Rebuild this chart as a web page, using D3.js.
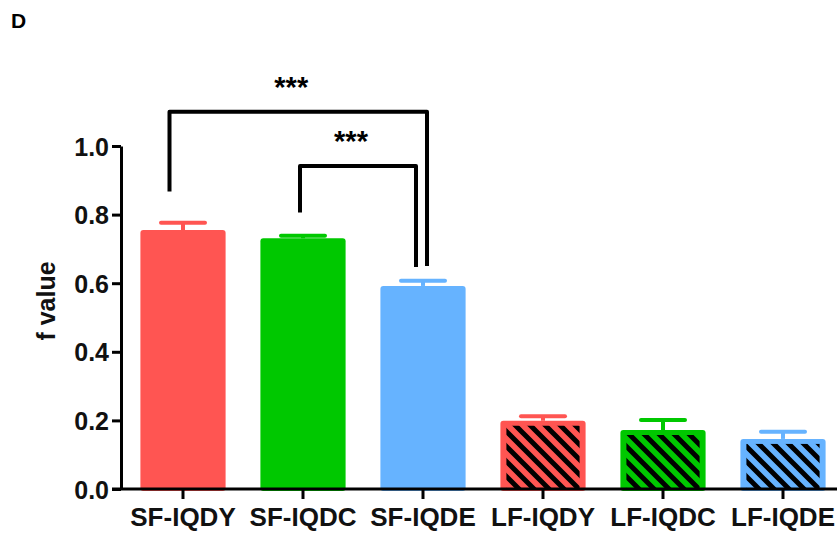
<!DOCTYPE html>
<html>
<head>
<meta charset="utf-8">
<script src="https://cdn.jsdelivr.net/npm/d3@7"></script>
<style>
  html, body { margin: 0; padding: 0; background: #fff; }
  svg { display: block; }
  text { font-family: "Liberation Sans", Arial, Helvetica, sans-serif; font-weight: bold; }
</style>
</head>
<body>
<svg id="chart" width="837" height="533"></svg>
<script>
// ---- data ----
const categories = ["SF-IQDY", "SF-IQDC", "SF-IQDE", "LF-IQDY", "LF-IQDC", "LF-IQDE"];
const meanValues = [0.755, 0.731, 0.592, 0.199, 0.172, 0.146];
const errorValues = [0.021, 0.007, 0.015, 0.013, 0.029, 0.021];
const hatched = [false, false, false, true, true, true];
const yTicks = [0.0, 0.2, 0.4, 0.6, 0.8, 1.0];
const comparisons = [
  { from: "SF-IQDY", to: "SF-IQDE", top: 1.10, fromEnd: 0.867, toEnd: 0.650, label: "***" },
  { from: "SF-IQDC", to: "SF-IQDE", top: 0.942, fromEnd: 0.806, toEnd: 0.647, label: "***" }
];
const panelLabel = "D";
const yLabel = "f value";

// ---- styles ----
const colors = ["#FF5552", "#00C800", "#66B3FF", "#FF5552", "#00C800", "#66B3FF"];

const svg = d3.select("#chart");
const W = 837;

const x = d3.scaleBand().domain(categories).range([123, 843]).paddingInner(0.29).paddingOuter(0.145);
const y = d3.scaleLinear().domain([0, 1]).range([489, 146]);

// hatch pattern
const defs = svg.append("defs");
const s = 15;
const pat = defs.append("pattern").attr("id", "hatch").attr("patternUnits", "userSpaceOnUse")
  .attr("width", s).attr("height", s);
pat.append("path")
  .attr("d", `M0,0 L${s},${s} M${-s/2},${s/2} L${s/2},${s*1.5} M${s/2},${-s/2} L${s*1.5},${s/2}`)
  .attr("stroke", "#000").attr("stroke-width", 5);

const data = categories.map((c, i) => ({ c, v: meanValues[i], e: errorValues[i], h: hatched[i], col: colors[i] }));

// error bars (behind bar)
const eg = svg.append("g");
data.forEach(d => {
  const cx = x(d.c) + x.bandwidth() / 2;
  eg.append("line").attr("x1", cx).attr("x2", cx).attr("y1", y(d.v)).attr("y2", y(d.v + d.e))
    .attr("stroke", d.col).attr("stroke-width", 4);
  eg.append("line").attr("x1", cx - 22).attr("x2", cx + 22).attr("y1", y(d.v + d.e)).attr("y2", y(d.v + d.e))
    .attr("stroke", d.col).attr("stroke-width", 4).attr("stroke-linecap", "round");
});

// bars
const bg = svg.append("g");
data.forEach(d => {
  bg.append("rect").attr("x", x(d.c)).attr("y", y(d.v)).attr("width", x.bandwidth())
    .attr("height", y(0) - y(d.v) + 2).attr("rx", 3).attr("fill", d.col);
  if (d.h) {
    bg.append("rect").attr("x", x(d.c) + 6).attr("y", y(d.v) + 5).attr("width", x.bandwidth() - 12)
      .attr("height", y(0) - y(d.v) - 5).attr("fill", "url(#hatch)");
  }
});

// y axis
const yAxis = svg.append("g").attr("transform", "translate(121,0)")
  .call(d3.axisLeft(y).tickValues(yTicks).tickFormat(d3.format(".1f")).tickSize(9).tickSizeOuter(0).tickPadding(3));
yAxis.select(".domain").attr("stroke", "#000").attr("stroke-width", 3);
yAxis.selectAll(".tick line").attr("stroke", "#000").attr("stroke-width", 3);
yAxis.selectAll(".tick text").attr("font-size", 25).attr("fill", "#111").attr("font-family", "Liberation Sans, Arial, sans-serif").attr("font-weight", "bold").attr("dy", "0.36em");

// x axis
const xAxis = svg.append("g").attr("transform", "translate(0,489)")
  .call(d3.axisBottom(x).tickSize(10).tickSizeOuter(0).tickPadding(9));
xAxis.select(".domain").remove();
xAxis.append("line").attr("x1", 112).attr("x2", W).attr("y1", 0).attr("y2", 0).attr("stroke", "#000").attr("stroke-width", 3);
xAxis.selectAll(".tick line").attr("stroke", "#000").attr("stroke-width", 3);
xAxis.selectAll(".tick text").attr("font-size", 26).attr("fill", "#111").attr("font-family", "Liberation Sans, Arial, sans-serif").attr("font-weight", "bold").attr("dy", "0.71em");

// comparison brackets
const cg = svg.append("g");
const offs = [[-13.5, 4], [-3, -7]];
comparisons.forEach((cmp, i) => {
  const x1 = x(cmp.from) + x.bandwidth() / 2 + offs[i][0];
  const x2 = x(cmp.to) + x.bandwidth() / 2 + offs[i][1];
  cg.append("path")
    .attr("d", `M${x1},${y(cmp.fromEnd)} L${x1},${y(cmp.top)} L${x2},${y(cmp.top)} L${x2},${y(cmp.toEnd)}`)
    .attr("fill", "none").attr("stroke", "#000").attr("stroke-width", 4).attr("stroke-linejoin", "round");
  cg.append("text").attr("x", (x1 + x2) / 2 - 7).attr("y", y(cmp.top) - 15)
    .attr("text-anchor", "middle").attr("font-size", 29).attr("fill", "#000").text(cmp.label);
});

// y label
svg.append("text").attr("transform", "translate(55,301) rotate(-90)").attr("text-anchor", "middle")
  .attr("font-size", 25).attr("fill", "#111").text(yLabel);

// panel label
svg.append("text").attr("x", 11).attr("y", 28).attr("font-size", 21).attr("fill", "#000").text(panelLabel);
</script>
</body>
</html>
